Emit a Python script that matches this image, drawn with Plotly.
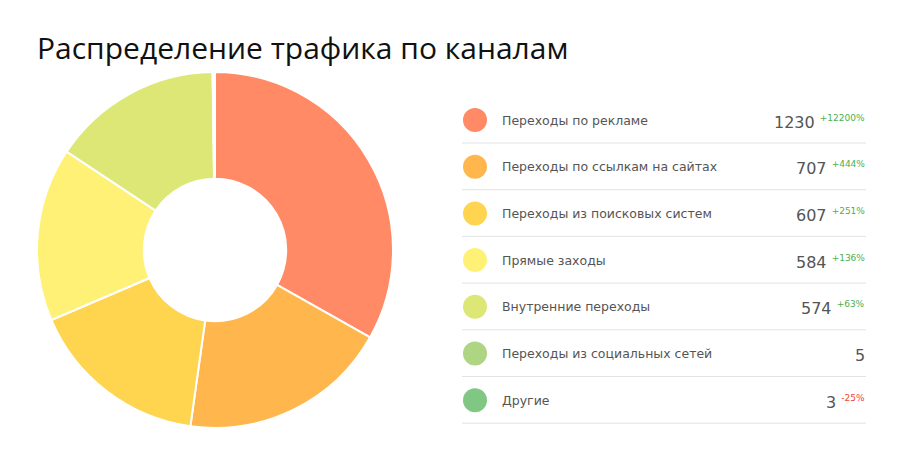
import plotly.graph_objects as go

W, H = 906, 461
labels = ["Переходы по рекламе", "Переходы по ссылкам на сайтах", "Переходы из поисковых систем",
          "Прямые заходы", "Внутренние переходы", "Переходы из социальных сетей", "Другие"]
values = [1230, 707, 607, 584, 574, 5, 3]
changes = ["+12200%", "+444%", "+251%", "+136%", "+63%", "", "-25%"]
colors = ["#FF8A65", "#FFB74D", "#FFD54F", "#FFF176", "#DCE775", "#AED581", "#81C784"]

OX, OY = 8, 8
def px(x): return (x - OX) / W
def py(y): return 1 - (y - OY) / H

fig = go.Figure(go.Pie(
    labels=labels, values=values, hole=0.4, sort=False, direction="clockwise", rotation=0,
    marker=dict(colors=colors, line=dict(color="white", width=2)),
    textinfo="none", hoverinfo="label+value",
    domain=dict(x=[px(37), px(393)], y=[py(428), py(72)]),
))

shapes, anns = [], []
anns.append(dict(x=px(35), y=py(47), xref="paper", yref="paper", xanchor="left", yanchor="middle",
                 text="Распределение трафика по каналам", showarrow=False,
                 font=dict(family="Open Sans", size=30, color="#111")))
row0, step = 120, 46.7
for i, (lab, v, ch, c) in enumerate(zip(labels, values, changes, colors)):
    yc = row0 + i * step
    shapes.append(dict(type="circle", xref="paper", yref="paper", x0=px(463), x1=px(487),
                       y0=py(yc + 12), y1=py(yc - 12), fillcolor=c, line=dict(width=0)))
    shapes.append(dict(type="line", xref="paper", yref="paper", x0=px(462), x1=px(866),
                       y0=py(yc + 23), y1=py(yc + 23), line=dict(color="#e3e3e3", width=1)))
    anns.append(dict(x=px(500), y=py(yc), xref="paper", yref="paper", xanchor="left", yanchor="middle",
                     text=lab, showarrow=False, font=dict(family="DejaVu Sans", size=12.5, color="#555")))
    txt = f"{v}"
    if ch:
        col = "#4CAF50" if ch.startswith("+") else "#F44336"
        txt += f" <sup><span style='font-size:9px;color:{col}'>{ch}</span></sup>"
    anns.append(dict(x=px(867), y=py(yc + 2), xref="paper", yref="paper", xanchor="right", yanchor="middle",
                     text=txt, showarrow=False, font=dict(family="DejaVu Sans", size=16, color="#555")))

fig.update_layout(width=W, height=H, margin=dict(l=0, r=0, t=0, b=0), showlegend=False,
                  paper_bgcolor="white", shapes=shapes, annotations=anns)
fig.write_html("out.html")
